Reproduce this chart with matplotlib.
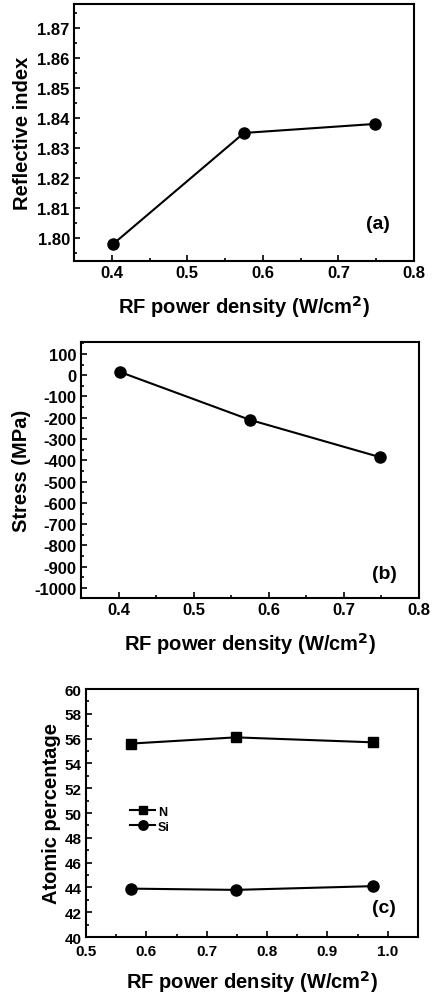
import matplotlib

matplotlib.use("Agg")

import matplotlib.pyplot as plt
from matplotlib.ticker import FormatStrFormatter, MultipleLocator

plt.rcParams["font.family"] = ["Liberation Sans", "DejaVu Sans"]
plt.rcParams["font.weight"] = "bold"
plt.rcParams["axes.unicode_minus"] = False

# panel (a)
power_a = [0.402, 0.575, 0.748]
refl_index = [1.798, 1.835, 1.838]

# panel (b)
power_b = [0.402, 0.575, 0.748]
stress = [15, -210, -385]

# panel (c)
power_c = [0.575, 0.748, 0.975]
atomic_n = [55.6, 56.1, 55.7]
atomic_si = [43.9, 43.8, 44.1]

W, H = 433, 995
fig = plt.figure(figsize=(W / 100, H / 100), dpi=100)


def px_axes(left, top, right, bottom):
    return fig.add_axes([left / W, 1 - bottom / H, (right - left) / W, (bottom - top) / H])


def style(ax, labelsize=12):
    for s in ax.spines.values():
        s.set_linewidth(1.5)
    ax.tick_params(which="both", direction="in", top=False, right=False, width=1.2)
    ax.tick_params(which="major", length=4, labelsize=labelsize, pad=3)
    ax.tick_params(which="minor", length=2.5)
    for lab in ax.get_xticklabels() + ax.get_yticklabels():
        lab.set_fontweight("bold")


xlabel = "RF power density (W/cm$\\mathbf{^2}$)"
LBL = 14.5

ax1 = px_axes(74, 5, 414, 262)
ax1.plot(power_a, refl_index, "k-o", lw=1.5, ms=8)
ax1.set_xlim(0.35, 0.8)
ax1.set_ylim(1.7923, 1.878)
ax1.xaxis.set_major_locator(MultipleLocator(0.1))
ax1.xaxis.set_minor_locator(MultipleLocator(0.05))
ax1.yaxis.set_major_locator(MultipleLocator(0.01))
ax1.yaxis.set_minor_locator(MultipleLocator(0.005))
ax1.set_xlabel(xlabel, fontsize=LBL, fontweight="bold", labelpad=9)
ax1.set_ylabel("Reflective index", fontsize=LBL, fontweight="bold", labelpad=4)
ax1.text(0.86, 0.13, "(a)", transform=ax1.transAxes, fontsize=14, fontweight="bold")
style(ax1)

ax2 = px_axes(81, 343, 419, 599)
ax2.plot(power_b, stress, "k-o", lw=1.5, ms=8)
ax2.set_xlim(0.35, 0.8)
ax2.set_ylim(-1047, 156)
ax2.xaxis.set_major_locator(MultipleLocator(0.1))
ax2.xaxis.set_minor_locator(MultipleLocator(0.05))
ax2.yaxis.set_major_locator(MultipleLocator(100))
ax2.yaxis.set_minor_locator(MultipleLocator(50))
ax2.set_xlabel(xlabel, fontsize=LBL, fontweight="bold", labelpad=9)
ax2.set_ylabel("Stress (MPa)", fontsize=LBL, fontweight="bold", labelpad=3)
ax2.text(0.86, 0.08, "(b)", transform=ax2.transAxes, fontsize=14, fontweight="bold")
style(ax2)

ax3 = px_axes(86, 690, 418, 938)
ax3.plot(power_c, atomic_n, "k-s", lw=1.5, ms=7, label="N")
ax3.plot(power_c, atomic_si, "k-o", lw=1.5, ms=8, label="Si")
ax3.set_xlim(0.5, 1.05)
ax3.set_ylim(40, 60)
ax3.xaxis.set_major_locator(MultipleLocator(0.1))
ax3.xaxis.set_minor_locator(MultipleLocator(0.05))
ax3.yaxis.set_major_locator(MultipleLocator(2))
ax3.yaxis.set_minor_locator(MultipleLocator(1))
ax3.xaxis.set_major_formatter(FormatStrFormatter("%.1f"))
ax3.set_xlabel(xlabel, fontsize=LBL, fontweight="bold", labelpad=7)
ax3.set_ylabel("Atomic percentage", fontsize=LBL, fontweight="bold", labelpad=3)
ax3.text(0.86, 0.1, "(c)", transform=ax3.transAxes, fontsize=14, fontweight="bold")
ax3.legend(loc="center left", bbox_to_anchor=(0.1, 0.475), frameon=False,
           fontsize=9, handlelength=2.0, handletextpad=0.2, labelspacing=0.25,
           markerscale=0.85)
style(ax3, labelsize=11)
ax3.tick_params(axis="x", which="major", pad=5)

fig.savefig("out.png", dpi=100)
